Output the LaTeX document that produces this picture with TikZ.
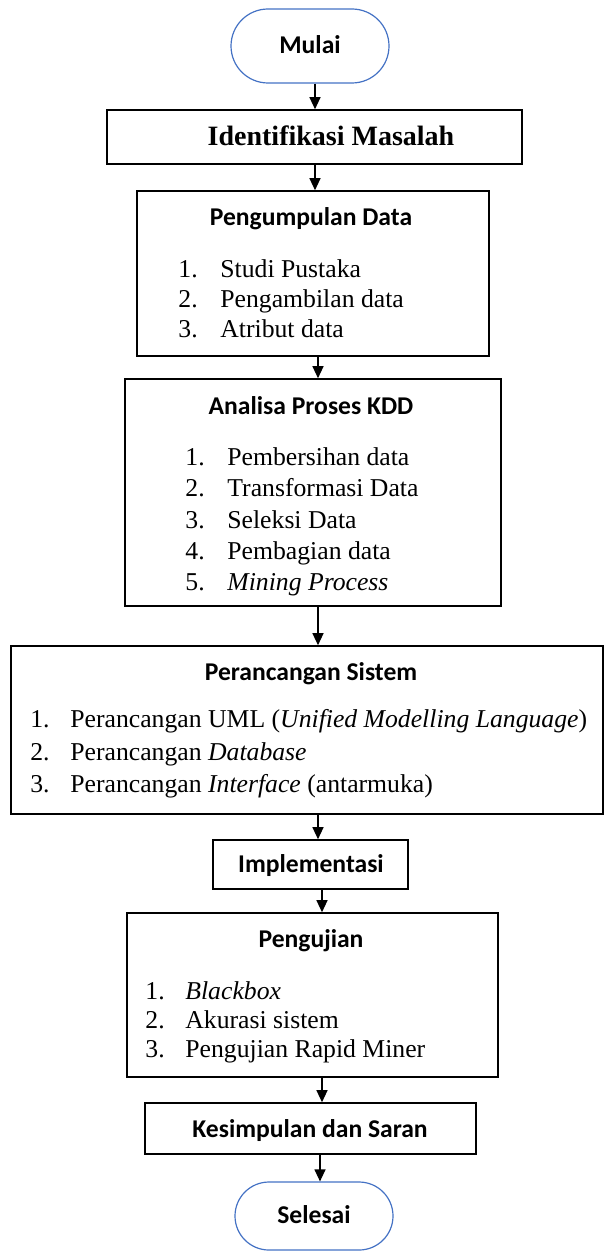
\documentclass[tikz,border=0pt]{standalone}
\usepackage{fontspec}
\setmainfont{Liberation Serif}
\newfontfamily\calibri{Carlito}
\usetikzlibrary{arrows.meta,fit}
\definecolor{termblue}{HTML}{4472C4}
\begin{document}
\begin{tikzpicture}[x=0.5pt, y=-0.5pt,
  box/.style={draw, line width=0.8pt, inner sep=0pt},
  term/.style={draw=termblue, line width=0.6pt, inner sep=0pt},
  head/.style={font=\calibri\bfseries\fontsize{12.8}{15}\selectfont, inner sep=0pt, text height=7.6pt, text depth=0pt},
  item/.style={font=\fontsize{12.85}{15}\selectfont, anchor=west, inner sep=0pt, text height=7.6pt, text depth=0pt},
  arr/.style={-{Triangle[length=6pt, width=5.5pt]}, line width=0.6pt}]
  \useasboundingbox (0,0) rectangle (606,1252);
  % start
  \node[term, rounded corners=18.5pt, fit={(231,9) (389,83)}] (mulai) {};
  \node[head] (mulaiT) at (310,46) {Mulai};
  \node[box, fit={(107,110) (522,164)}] (ident) {};
  \node[font=\bfseries\fontsize{14}{16}\selectfont, inner sep=0pt, text height=8.4pt, text depth=0pt] (identT) at (331,137) {Identifikasi Masalah};
  % data
  \node[box, fit={(137,191) (489,356)}] (kumpul) {};
  \node[head] (kumpulT) at (311,218) {Pengumpulan Data};
  \foreach \y/\txt [count=\n] in {270/Studi Pustaka, 300/Pengambilan data, 330/Atribut data}
    \node[item] (kumpul\n) at (178,\y) {\makebox[21pt][l]{\n.}\txt};
  \node[box, fit={(125,379) (501,606)}] (kdd) {};
  \node[head] (kddT) at (311,407) {Analisa Proses KDD};
  \foreach \y/\txt [count=\n] in {458/Pembersihan data, 489/Transformasi Data, 520.5/Seleksi Data, 552/Pembagian data, 583/\textit{Mining Process}}
    \node[item] (kdd\n) at (185,\y) {\makebox[21pt][l]{\n.}\txt};
  % design
  \node[box, fit={(11,646) (603,814)}] (rancang) {};
  \node[head] (rancangT) at (311,673) {Perancangan Sistem};
  \foreach \y/\txt [count=\n] in {720/Perancangan UML (\textit{Unified Modelling Language}), 752.5/Perancangan \textit{Database}, 785/Perancangan \textit{Interface} (antarmuka)}
    \node[item] (rancang\n) at (30,\y) {\makebox[20pt][l]{\n.}\txt};
  \node[box, fit={(213,840) (408,889)}] (impl) {};
  \node[head] (implT) at (311,865) {Implementasi};
  % testing
  \node[box, fit={(127,913) (498,1077)}] (uji) {};
  \node[head] (ujiT) at (311,940) {Pengujian};
  \foreach \y/\txt [count=\n] in {992/\textit{Blackbox}, 1021/Akurasi sistem, 1050/Pengujian Rapid Miner}
    \node[item] (uji\n) at (145,\y) {\makebox[20pt][l]{\n.}\txt};
  \node[box, fit={(145,1103) (476,1154)}] (simpul) {};
  \node[head] (simpulT) at (310,1130) {Kesimpulan dan Saran};
  \node[term, rounded corners=17pt, fit={(235,1182) (393,1250)}] (selesai) {};
  \node[head] (selesaiT) at (314,1216) {Selesai};
  % arrows
  \draw[arr] (315,0 |- mulai.south) -- (315,0 |- ident.north);
  \draw[arr] (315,0 |- ident.south) -- (315,0 |- kumpul.north);
  \draw[arr] (318,0 |- kumpul.south) -- (318,0 |- kdd.north);
  \draw[arr] (318,0 |- kdd.south) -- (318,0 |- rancang.north);
  \draw[arr] (318,0 |- rancang.south) -- (318,0 |- impl.north);
  \draw[arr] (322,0 |- impl.south) -- (322,0 |- uji.north);
  \draw[arr] (322,0 |- uji.south) -- (322,0 |- simpul.north);
  \draw[arr] (320,0 |- simpul.south) -- (320,0 |- selesai.north);
\end{tikzpicture}
\end{document}
